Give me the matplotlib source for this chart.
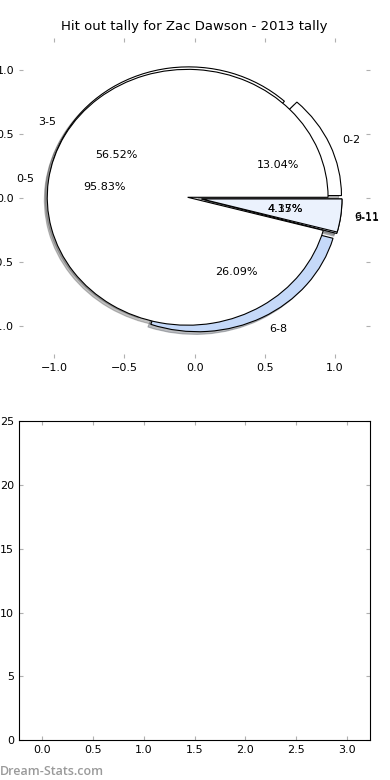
import numpy as np
import matplotlib
matplotlib.use("Agg")
import matplotlib.pyplot as plt

# hit out buckets (fine split)
fine_labels = ["0-2", "3-5", "6-8", "9-11"]
fine_counts = [3, 13, 6, 1]
fine_colors = ["white", "white", "#C5D9F9", "#EBF2FD"]

# coarse split
coarse_labels = ["0-5", "6-11"]
coarse_counts = [23, 1]
coarse_colors = ["white", "#EBF2FD"]

# bottom panel (empty bar chart)
bar_pos = [0, 1, 2, 3]
bar_vals = [0, 0, 0, 0]

title = "Hit out tally for Zac Dawson - 2013 tally"

plt.rcParams["font.family"] = ["DejaVu Sans"]
plt.rcParams["font.size"] = 8

fig = plt.figure(figsize=(3.9, 7.8), dpi=100)

shadow_kw = dict(ox=-0.015, oy=-0.015, alpha=0.35)

ax = fig.add_axes([0.049, 0.541, 0.9, 0.41])
ax.pie(fine_counts, labels=fine_labels, colors=fine_colors, autopct="%.2f%%",
       explode=[0.05] * len(fine_counts), shadow=shadow_kw,
       wedgeprops=dict(edgecolor="black", linewidth=0.8),
       textprops=dict(fontsize=8))
ax.pie(coarse_counts, labels=coarse_labels, colors=coarse_colors, autopct="%.2f%%",
       explode=[0.05] * len(coarse_counts), shadow=shadow_kw,
       wedgeprops=dict(edgecolor="black", linewidth=0.8),
       textprops=dict(fontsize=8))
ax.set_aspect("auto")
ax.set_frame_on(False)
ax.set_xlim(-1.25, 1.25)
ax.set_ylim(-1.25, 1.25)
ax.set_xticks([-1.0, -0.5, 0.0, 0.5, 1.0])
ax.set_yticks([-1.0, -0.5, 0.0, 0.5, 1.0])
ax.tick_params(direction="in", top=True, right=True, color="#b0b0b0",
               length=3, labelsize=8)
ax.set_title(title, fontsize=9.5)

ax2 = fig.add_axes([0.049, 0.051, 0.9, 0.409])
ax2.bar(bar_pos, bar_vals, width=0.45, color="#C5D9F9")
ax2.set_xlim(-0.225, 3.225)
ax2.set_ylim(0, 25)
ax2.set_xticks(np.arange(0, 3.01, 0.5))
ax2.set_yticks([0, 5, 10, 15, 20, 25])
ax2.tick_params(direction="in", top=True, right=True, color="#b0b0b0",
                length=3, labelsize=8)

fig.text(0.0, 0.003, "Dream-Stats.com", color="#9a9a9a", fontsize=9,
         family=["Open Sans", "DejaVu Sans"], fontweight="semibold",
         ha="left", va="bottom")

fig.savefig("out.png", dpi=100)
